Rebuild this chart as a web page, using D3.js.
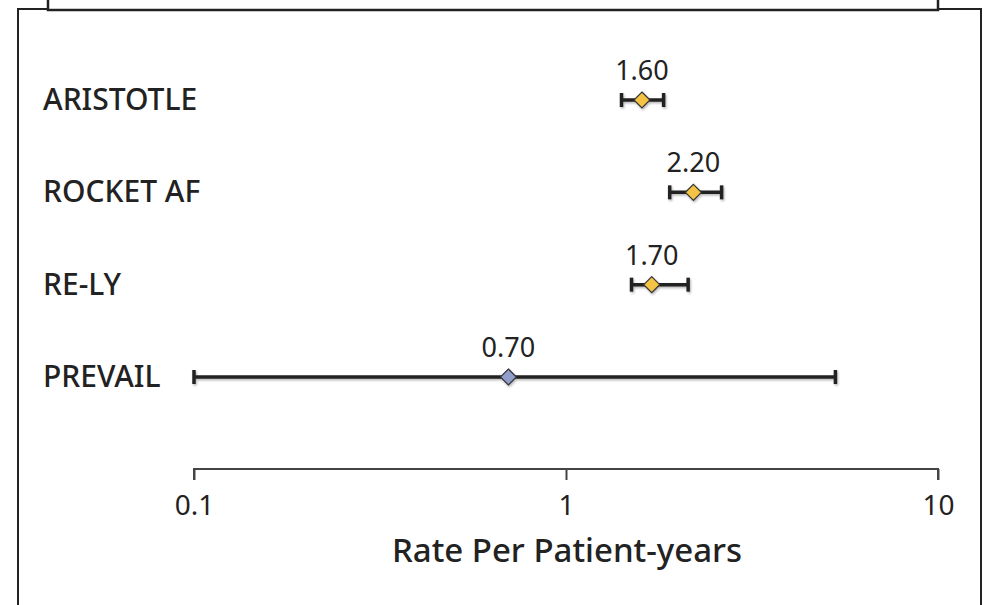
<!DOCTYPE html>
<html><head><meta charset="utf-8">
<script src="https://cdn.jsdelivr.net/npm/d3@7"></script>
<style>body{margin:0;background:#fff;} svg{display:block;}</style>
</head><body>
<svg id="c" width="992" height="605"></svg>
<script>
const trials = ["ARISTOTLE", "ROCKET AF", "RE-LY", "PREVAIL"];
const rates = [1.60, 2.20, 1.70, 0.70];
const lower = [1.41, 1.90, 1.50, 0.10];
const upper = [1.83, 2.62, 2.13, 5.30];
const pointColors = ["#f4c244", "#f4c244", "#f4c244", "#8f9ecb"];
const tickValues = [0.1, 1, 10];
const tickLabels = ["0.1", "1", "10"];
const axisTitle = "Rate Per Patient-years";

const svg = d3.select("#c");
const font = "'Noto Sans', sans-serif";
const ink = "#222";

const defs = svg.append("defs");
const f = defs.append("filter").attr("id", "sh").attr("x", "-10%").attr("y", "-50%").attr("width", "120%").attr("height", "200%");
f.append("feDropShadow").attr("dx", 1).attr("dy", 1.5).attr("stdDeviation", 1).attr("flood-color", "#000").attr("flood-opacity", 0.3);

// frames
svg.append("rect").attr("x", 18).attr("y", 9).attr("width", 963).attr("height", 620)
  .attr("fill", "none").attr("stroke", "#222").attr("stroke-width", 2);
svg.append("rect").attr("x", 48).attr("y", -20).attr("width", 890).attr("height", 30)
  .attr("fill", "#fff").attr("stroke", "#222").attr("stroke-width", 2.5);

const x = d3.scaleLog().domain([0.1, 10]).range([194, 938]);
const y = d3.scalePoint().domain(trials).range([100, 377]);

// axis
const axis = d3.axisBottom(x).tickValues(tickValues).tickFormat((d, i) => tickLabels[i])
  .tickSize(11).tickSizeOuter(0).tickPadding(15);
const ag = svg.append("g").attr("transform", "translate(0,469)").call(axis);
ag.select(".domain").attr("stroke", "#444").attr("stroke-width", 2).attr("d", "M194,11V0H938V11");
ag.selectAll(".tick line").attr("stroke", "#444").attr("stroke-width", 2);
ag.selectAll(".tick text").attr("font-family", font).attr("font-size", 28).attr("fill", ink);

svg.append("text").attr("x", 567).attr("y", 562).attr("text-anchor", "middle")
  .attr("font-family", font).attr("font-size", 33).attr("font-weight", 500).attr("fill", ink)
  .text(axisTitle);

// rows
const rows = svg.append("g").selectAll("g").data(trials).join("g")
  .attr("transform", d => `translate(0,${y(d)})`);

rows.append("text").attr("x", 43).attr("y", 10).attr("font-family", font)
  .attr("font-size", 30).attr("font-weight", 500).attr("fill", ink).text(d => d);

const bars = rows.append("g").attr("filter", "url(#sh)");
bars.append("line").attr("x1", (d, i) => x(lower[i])).attr("x2", (d, i) => x(upper[i]))
  .attr("stroke", ink).attr("stroke-width", 3.5);
bars.append("line").attr("x1", (d, i) => x(lower[i])).attr("x2", (d, i) => x(lower[i]))
  .attr("y1", -7).attr("y2", 7).attr("stroke", ink).attr("stroke-width", 3.5);
bars.append("line").attr("x1", (d, i) => x(upper[i])).attr("x2", (d, i) => x(upper[i]))
  .attr("y1", -7).attr("y2", 7).attr("stroke", ink).attr("stroke-width", 3.5);
bars.append("path").attr("d", "M0,-8L8,0L0,8L-8,0Z")
  .attr("transform", (d, i) => `translate(${x(rates[i])},0)`)
  .attr("fill", (d, i) => pointColors[i]).attr("stroke", "#333").attr("stroke-width", 1.2);

rows.append("text").attr("x", (d, i) => x(rates[i])).attr("y", -20)
  .attr("text-anchor", "middle").attr("font-family", font).attr("font-size", 27)
  .attr("fill", ink).text((d, i) => rates[i].toFixed(2));
</script>
</body></html>
